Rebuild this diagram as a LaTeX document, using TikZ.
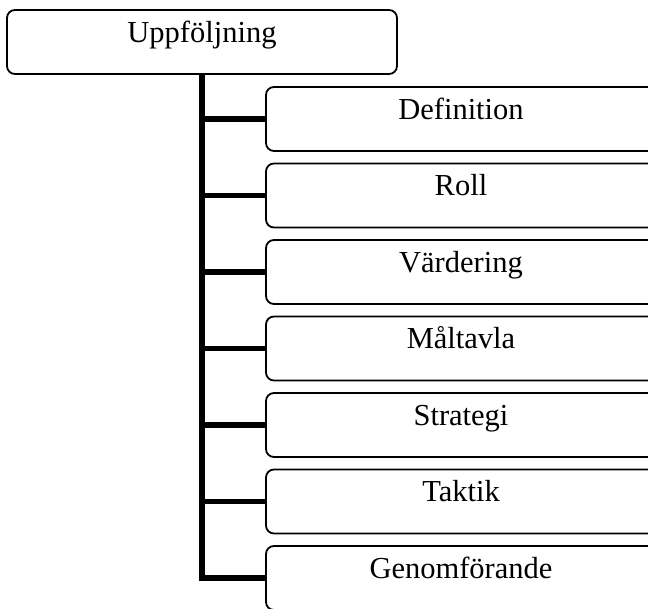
\documentclass[tikz,border=0pt]{standalone}
\usepackage{fontspec}
\setmainfont{Liberation Serif}
\begin{document}
\begin{tikzpicture}[x=1pt,y=-1pt,
  box/.style={draw=black, line width=1.8pt, rounded corners=8pt, fill=white,
    minimum width=390pt, minimum height=64pt, inner sep=0pt,
    text height=12pt, text depth=12pt,
    font=\fontsize{30.5}{36}\selectfont},
  trunk/.style={line width=5.5pt, draw=black}]
\useasboundingbox (0,0) rectangle (648,608);
\clip (0,0) rectangle (648,608);
\node[box] (top) at (202,42) {Uppföljning};
\node[box] (c1) at (461,119) {Definition};
\node[box] (c2) at (461,195.5) {Roll};
\node[box] (c3) at (461,272) {Värdering};
\node[box] (c4) at (461,348.5) {Måltavla};
\node[box] (c5) at (461,425) {Strategi};
\node[box] (c6) at (461,501.5) {Taktik};
\node[box] (c7) at (461,578) {Genomförande};
\draw[trunk] (top.south) |- (c7.west);
\foreach \i in {1,...,6} {
  \draw[trunk] (top.south |- c\i.west) -- (c\i.west);
}
\end{tikzpicture}
\end{document}
